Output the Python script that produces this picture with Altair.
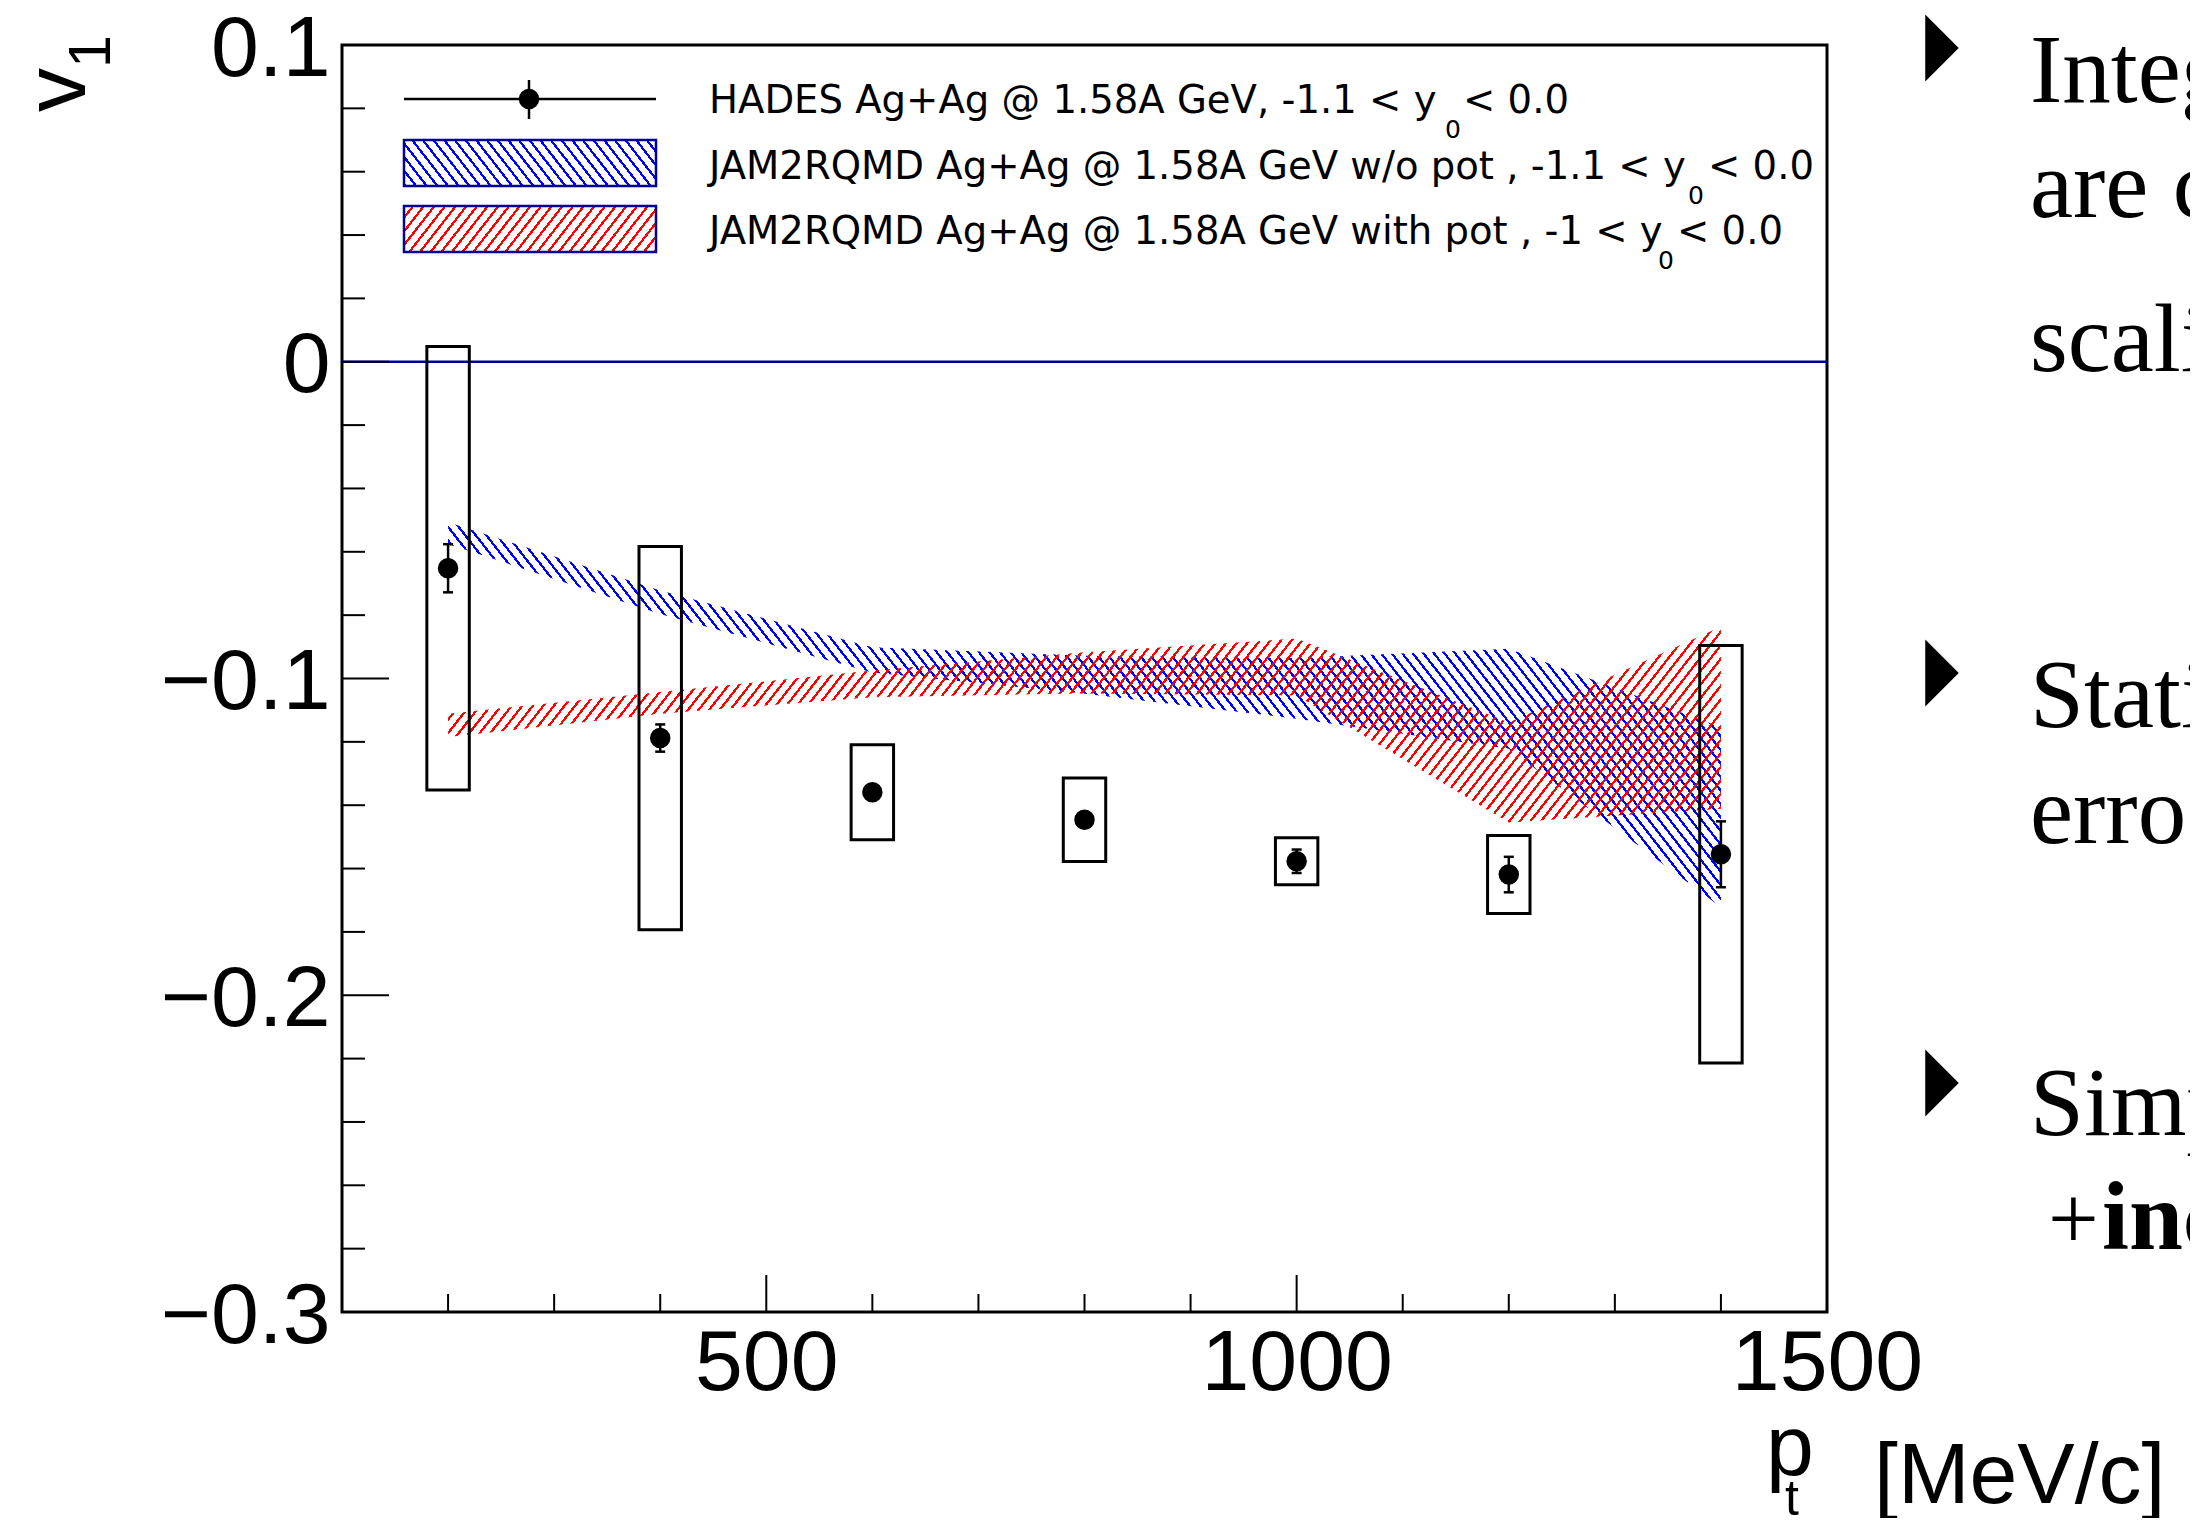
import math
import altair as alt
import pandas as pd

# ---------------- data ----------------
pt = [200, 400, 600, 800, 1000, 1200, 1400]
v1 = [-0.0652, -0.1188, -0.1359, -0.1446, -0.1577, -0.1619, -0.1555]
stat_err = [0.0076, 0.0043, 0.0020, 0.0020, 0.0037, 0.0056, 0.0104]
sys_err = [0.0700, 0.0605, 0.0150, 0.0132, 0.0074, 0.0123, 0.0659]
box_half_width = 20  # MeV/c, half width of systematic boxes

nopot_mid = [-0.0541, -0.0759, -0.0941, -0.0988, -0.1031, -0.1064, -0.1438]
nopot_err = [0.0034, 0.0037, 0.0040, 0.0060, 0.0096, 0.0158, 0.0284]
pot_mid = [-0.1148, -0.1077, -0.1017, -0.0982, -0.0964, -0.1297, -0.1124]
pot_err = [0.0037, 0.0034, 0.0042, 0.0065, 0.0090, 0.0158, 0.0287]

x_major = [500, 1000]
x_minor = [200, 300, 400, 600, 700, 800, 900, 1100, 1200, 1300, 1400]
y_major = [-0.2, -0.1, 0.0]
y_minor = [0.08, 0.06, 0.04, 0.02, -0.02, -0.04, -0.06, -0.08, -0.12, -0.14,
           -0.16, -0.18, -0.22, -0.24, -0.26, -0.28]
x_labels = [500, 1000, 1500]
y_labels = [-0.3, -0.2, -0.1, 0.0, 0.1]

legend_labels = [
    "HADES Ag+Ag @ 1.58A GeV, -1.1 < y",
    "JAM2RQMD Ag+Ag @ 1.58A GeV w/o pot , -1.1 < y",
    "JAM2RQMD Ag+Ag @ 1.58A GeV with pot , -1 < y",
]
legend_tail = ["< 0.0", "< 0.0", "< 0.0"]
side_text = ["Integ", "are c", "scali", "Stati", "erro", "Simp"]

# ---------------- layout ----------------
W, H = 1485, 1267
XDOM = [100, 1500]
YDOM = [-0.3, 0.1]
px_x = W / (XDOM[1] - XDOM[0])
px_y = H / (YDOM[1] - YDOM[0])

FONT = "Liberation Sans"
LFONT = "DejaVu Sans"
BLUE = "#0000ff"
RED = "#ff0000"
NAVY = "#000099"


def hatch(color, wpx, hpx, direction, spacing=8.3, width=2.3):
    dx, dy = direction
    gx, gy = dy / hpx, -dx / wpx
    corners = [(0, 0), (1, 0), (0, 1), (1, 1)]
    ts = [cx * gx + cy * gy for cx, cy in corners]
    imin = min(range(4), key=lambda i: ts[i])
    span = max(ts) - min(ts)
    lam = span / (gx * gx + gy * gy)
    x1, y1 = corners[imin]
    x2, y2 = x1 + lam * gx, y1 + lam * gy
    nrm = math.hypot(dx, dy)
    nx, ny = dy / nrm, -dx / nrm
    ds = [cx * wpx * nx + cy * hpx * ny for cx, cy in corners]
    dist = max(ds) - min(ds)
    n = max(1, round(dist / spacing))
    duty = min(0.9, width / (dist / n))
    clear = "rgba(255,255,255,0)"
    stops = []
    for i in range(n):
        a, b, c = i / n, (i + duty) / n, (i + 1) / n
        stops += [(a, color), (b, color), (b, clear), (c, clear)]
    return alt.LinearGradient(
        gradient="linear",
        stops=[alt.GradientStop(color=col, offset=round(o, 6)) for o, col in stops],
        x1=x1, y1=y1, x2=round(x2, 6), y2=round(y2, 6),
    )


ang = math.radians(52)
DIR_BACK = (math.cos(ang), math.sin(ang))     # "\" lines
DIR_FWD = (math.cos(ang), -math.sin(ang))     # "/" lines

# ---------------- frames ----------------
df = pd.DataFrame({"pt": pt, "v1": v1, "stat": stat_err, "sys": sys_err})
df["lo"] = df.v1 - df.stat
df["hi"] = df.v1 + df.stat
df["slo"] = df.v1 - df.sys
df["shi"] = df.v1 + df.sys
df["bx1"] = df.pt - box_half_width
df["bx2"] = df.pt + box_half_width

band_np = pd.DataFrame({"pt": pt,
                        "lo": [m - e for m, e in zip(nopot_mid, nopot_err)],
                        "hi": [m + e for m, e in zip(nopot_mid, nopot_err)]})
band_p = pd.DataFrame({"pt": pt,
                       "lo": [m - e for m, e in zip(pot_mid, pot_err)],
                       "hi": [m + e for m, e in zip(pot_mid, pot_err)]})


def band_box(b):
    return ((max(b.pt) - min(b.pt)) * px_x, (max(b.hi) - min(b.lo)) * px_y)


g_np = hatch(BLUE, *band_box(band_np), DIR_BACK)
g_p = hatch(RED, *band_box(band_p), DIR_FWD)

xscale = alt.Scale(domain=XDOM, nice=False, zero=False)
yscale = alt.Scale(domain=YDOM, nice=False, zero=False)
xaxis = alt.Axis(values=x_labels, title=None, ticks=False, domain=False, grid=False,
                 labelFont=FONT, labelFontSize=86, labelColor="black", labelPadding=9,
                 labelFlush=False, labelOverlap=False, labelLimit=0, format="d")
yaxis = alt.Axis(values=y_labels, title=None, ticks=False, domain=False, grid=False,
                 labelFont=FONT, labelFontSize=86, labelColor="black", labelPadding=12,
                 labelOverlap=False, labelOffset=4, labelBaseline="middle", labelLimit=0,
                 labelExpr="datum.value == 0 ? '0' : replace(format(datum.value, '.1f'), '-', '\u2212')")


def X(f):
    return alt.X(f, type="quantitative", scale=xscale, axis=xaxis)


def Y(f):
    return alt.Y(f, type="quantitative", scale=yscale, axis=yaxis)


one = pd.DataFrame({"a": [0]})

layers = []
layers.append(alt.Chart(band_np).mark_area(fill=g_np, opacity=1, interpolate="linear")
              .encode(x=X("pt"), y=Y("lo"), y2="hi"))
layers.append(alt.Chart(band_p).mark_area(fill=g_p, opacity=1, interpolate="linear")
              .encode(x=X("pt"), y=Y("lo"), y2="hi"))
layers.append(alt.Chart(pd.DataFrame({"y": [0.0]})).mark_rule(color=NAVY, strokeWidth=2.5)
              .encode(y=Y("y"), x=alt.value(0), x2=alt.value(W)))
layers.append(alt.Chart(df).mark_rect(fill="white", fillOpacity=0, stroke="black", strokeWidth=3)
              .encode(x=X("bx1"), x2="bx2", y=Y("slo"), y2="shi"))
layers.append(alt.Chart(df).mark_rule(color="black", strokeWidth=2.5)
              .encode(x=X("pt"), y=Y("lo"), y2="hi"))
cap = "M-1,0L1,0"
layers.append(alt.Chart(df).mark_point(shape=cap, size=100, stroke="black", strokeWidth=2.5,
                                       filled=False, opacity=1)
              .encode(x=X("pt"), y=Y("lo")))
layers.append(alt.Chart(df).mark_point(shape=cap, size=100, stroke="black", strokeWidth=2.5,
                                       filled=False, opacity=1)
              .encode(x=X("pt"), y=Y("hi")))
layers.append(alt.Chart(df).mark_circle(size=420, color="black", opacity=1)
              .encode(x=X("pt"), y=Y("v1")))

# inward ticks
layers.append(alt.Chart(pd.DataFrame({"y": y_major})).mark_rule(color="black", strokeWidth=2)
              .encode(y=Y("y"), x=alt.value(0), x2=alt.value(47)))
layers.append(alt.Chart(pd.DataFrame({"y": y_minor})).mark_rule(color="black", strokeWidth=2)
              .encode(y=Y("y"), x=alt.value(0), x2=alt.value(23)))
layers.append(alt.Chart(pd.DataFrame({"x": x_major})).mark_rule(color="black", strokeWidth=2)
              .encode(x=X("x"), y=alt.value(H), y2=alt.value(H - 37)))
layers.append(alt.Chart(pd.DataFrame({"x": x_minor})).mark_rule(color="black", strokeWidth=2)
              .encode(x=X("x"), y=alt.value(H), y2=alt.value(H - 18)))

# legend
LX1, LX2 = 62, 314
layers.append(alt.Chart(one).mark_rule(color="black", strokeWidth=2.5)
              .encode(x=alt.value(LX1), x2=alt.value(LX2), y=alt.value(54)))
layers.append(alt.Chart(one).mark_rule(color="black", strokeWidth=2.5)
              .encode(x=alt.value(187), y=alt.value(35), y2=alt.value(74)))
layers.append(alt.Chart(one).mark_circle(size=420, color="black", opacity=1)
              .encode(x=alt.value(187), y=alt.value(54)))
lg_b = hatch(BLUE, LX2 - LX1, 46, DIR_BACK)
lg_r = hatch(RED, LX2 - LX1, 46, DIR_FWD)
layers.append(alt.Chart(one).mark_rect(fill=lg_b, stroke=NAVY, strokeWidth=2.5)
              .encode(x=alt.value(LX1), x2=alt.value(LX2), y=alt.value(95), y2=alt.value(141)))
layers.append(alt.Chart(one).mark_rect(fill=lg_r, stroke=NAVY, strokeWidth=2.5)
              .encode(x=alt.value(LX1), x2=alt.value(LX2), y=alt.value(161), y2=alt.value(207)))

base_y = [68, 133.5, 199]
sub_x = [1103, 1346, 1316]
tail_x = [1121, 1366, 1335]
for i in range(3):
    layers.append(alt.Chart(one).mark_text(text=legend_labels[i], font=LFONT, fontSize=38.6,
                                           align="left", baseline="alphabetic", color="black")
                  .encode(x=alt.value(367), y=alt.value(base_y[i])))
    layers.append(alt.Chart(one).mark_text(text="0", font=LFONT, fontSize=25,
                                           align="left", baseline="alphabetic", color="black")
                  .encode(x=alt.value(sub_x[i]), y=alt.value(base_y[i] + 25)))
    layers.append(alt.Chart(one).mark_text(text=legend_tail[i], font=LFONT, fontSize=38.6,
                                           align="left", baseline="alphabetic", color="black")
                  .encode(x=alt.value(tail_x[i]), y=alt.value(base_y[i])))


def txt(s, x, y, size, font=FONT, angle=0, weight="normal"):
    return (alt.Chart(one).mark_text(text=s, font=font, fontSize=size, angle=angle,
                                     fontWeight=weight, align="left", baseline="alphabetic",
                                     color="black")
            .encode(x=alt.value(x), y=alt.value(y)))


# axis titles
layers.append(txt("v", -257, 67, 88, angle=270))
layers.append(txt("1", -232, 23, 59, angle=270))
layers.append(txt("p", 1424, 1430, 86))
layers.append(txt("t", 1443, 1470, 50))
layers.append(txt("[MeV/c]", 1532, 1458, 86))

# right-hand slide text (cut at the page edge)
SERIF = "Liberation Serif"
side_y = [57, 172, 326, 682, 798, 1090]
for s, y in zip(side_text, side_y):
    layers.append(txt(s, 1688, y, 97, font=SERIF))
layers.append(txt("+", 1706, 1204, 90, font=SERIF))
layers.append(txt("inc", 1760, 1204, 97, font=SERIF, weight="bold"))

tri = "M-0.5,-1L0.5,0L-0.5,1Z"
layers.append(alt.Chart(pd.DataFrame({"ty": [3, 628, 1038]}))
              .mark_point(shape=tri, size=4489, filled=True, color="black", opacity=1)
              .encode(x=alt.value(1600), y=alt.Y("ty:Q", scale=None, axis=None)))

chart = (alt.layer(*layers)
         .properties(width=W, height=H,
                     autosize=alt.AutoSizeParams(type="none"),
                     padding={"left": 334, "top": 37, "right": 363, "bottom": 206},
                     background="white")
         .configure_view(stroke="black", strokeWidth=3))

chart.save("out.html", embed_options={"renderer": "svg", "actions": False})
